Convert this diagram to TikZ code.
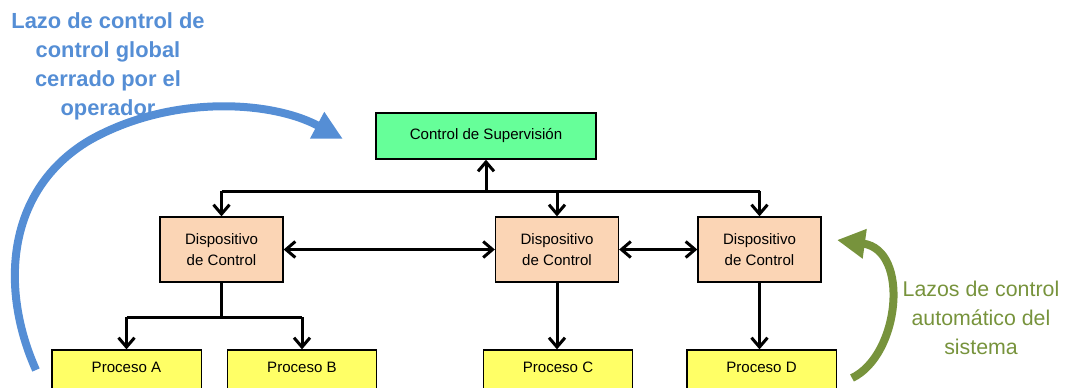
\documentclass[tikz,border=0pt]{standalone}
\usepackage{fontspec}
\setmainfont{Liberation Sans}
\usetikzlibrary{arrows.meta}

\definecolor{verdeSup}{RGB}{102,255,153}
\definecolor{naranjaDisp}{RGB}{251,213,181}
\definecolor{amarilloProc}{RGB}{255,255,102}
\definecolor{azulLazo}{RGB}{85,142,213}
\definecolor{verdeLazo}{RGB}{119,147,60}

\begin{document}
\begin{tikzpicture}[x=0.75pt, y=-0.75pt,
    caja/.style={draw, line width=1pt, inner sep=0pt, align=center,
                 font=\fontsize{11.3}{15.5}\selectfont},
    flecha/.style={line width=2.25pt, -{Straight Barb[length=7pt, width=12pt]}},
    linea/.style={line width=2.25pt}]
            \useasboundingbox (0,0) rectangle (1068,387);
            \clip (0,0) rectangle (1068,387);

            % Define supervision and control devices
            \node[caja, fill=verdeSup, minimum width=165pt, minimum height=34.5pt] (sup) at (486,136) {Control de Supervisi\'on};
            \node[caja, fill=naranjaDisp, minimum width=92.25pt, minimum height=48.75pt] (disp1) at (221.5,249.5) {Dispositivo\\de Control};
            \node[caja, fill=naranjaDisp, minimum width=92.25pt, minimum height=48.75pt] (disp2) at (557,249.5) {Dispositivo\\de Control};
            \node[caja, fill=naranjaDisp, minimum width=92.25pt, minimum height=48.75pt] (disp3) at (759.5,249.5) {Dispositivo\\de Control};

            % processes, cut at the bottom edge
            \foreach \x/\l in {126.5/A, 302/B, 558/C, 761.5/D} {
                \node[caja, fill=amarilloProc, minimum width=112pt, text height=16.5pt, text depth=22.5pt, anchor=base] (proc\l) at (\x,372) {Proceso \l};
            }

            % bus between supervision and devices
            \coordinate (bus) at (486,191);
            \coordinate (rama) at (219,317);
            \draw[linea] (disp1.north |- bus) -- (disp3.north |- bus);
            \draw[flecha] (bus) -- (sup.south);
            \draw[flecha] (disp1.north |- bus) -- (disp1.north);
            \draw[flecha] (disp2.north |- bus) -- (disp2.north);
            \draw[flecha] (disp3.north |- bus) -- (disp3.north);

            % links between devices
            \draw[flecha, {Straight Barb[length=7pt, width=12pt]}-{Straight Barb[length=7pt, width=12pt]}] (disp1) -- (disp2);
            \draw[flecha, {Straight Barb[length=7pt, width=12pt]}-{Straight Barb[length=7pt, width=12pt]}] (disp2) -- (disp3);

            % devices down to processes
            \draw[linea] (disp1.south) -- (disp1.south |- rama);
            \draw[linea] (procA.north |- rama) -- (procB.north |- rama);
            \draw[flecha] (procA.north |- rama) -- (procA.north);
            \draw[flecha] (procB.north |- rama) -- (procB.north);
            \draw[flecha] (disp2.south) -- (disp2.south |- procC.north);
            \draw[flecha] (disp3.south) -- (disp3.south |- procD.north);

            % loops
            \coordinate (azulIni) at (36,370);
            \coordinate (azulFin) at (343,139);
            \draw[azulLazo, line width=6pt, -{Triangle[length=22pt, width=21pt]}]
                (azulIni) .. controls (0,290) and (5,190) .. (90,140)
                .. controls (170,95) and (270,100) .. (azulFin);
            \coordinate (verdeIni) at (852,378);
            \coordinate (verdeFin) at (837,240);
            \draw[verdeLazo, line width=6pt, -{Triangle[length=21pt, width=21pt]}]
                (verdeIni) .. controls (900,355) and (910,250) .. (verdeFin);

            \node[azulLazo, align=center, font=\fontsize{16.4}{21.75}\selectfont\bfseries] (textoAzul) at (108,66) {Lazo de control de\\control global\\cerrado por el\\operador};
            \node[verdeLazo, align=center, font=\fontsize{16}{21.75}\selectfont] (textoVerde) at (981,318) {Lazos de control\\autom\'atico del\\sistema};
        \end{tikzpicture}
\end{document}
